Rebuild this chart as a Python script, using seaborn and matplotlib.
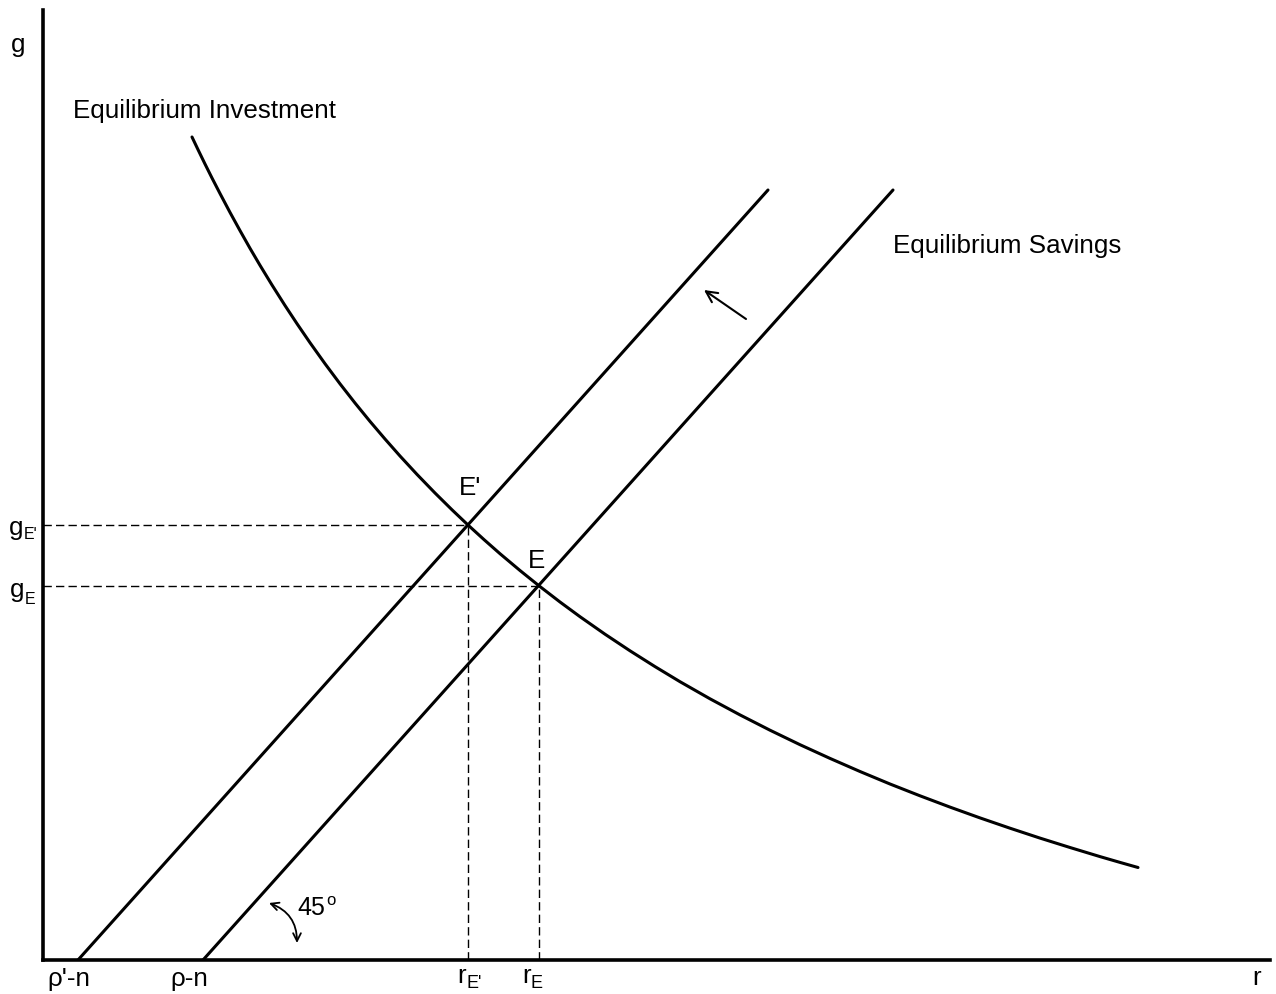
import matplotlib
matplotlib.use("Agg")
import matplotlib.pyplot as plt
import seaborn as sns
import pandas as pd

# Equilibrium investment schedule: growth rate g against interest rate r
invest_r = [1.49, 1.55, 1.62, 1.69, 1.77, 1.87, 1.97, 2.07, 2.17, 2.29,
            2.42, 2.54, 2.67, 2.82, 2.97, 3.12, 3.27, 3.42, 3.57, 3.74,
            3.92, 4.09, 4.25, 4.41, 4.57, 4.77, 4.96, 5.17, 5.37, 5.62,
            5.87, 6.12, 6.37, 6.67, 6.97, 7.27, 7.57, 7.87, 8.17, 8.47,
            8.77, 9.07, 9.37, 9.67, 9.97, 10.27, 10.57, 10.77, 10.95]
invest_g = [8.230, 8.104, 7.960, 7.820, 7.665, 7.476, 7.294, 7.117, 6.947,
            6.750, 6.545, 6.363, 6.173, 5.963, 5.762, 5.570, 5.386, 5.210,
            5.040, 4.856, 4.670, 4.502, 4.350, 4.204, 4.063, 3.895, 3.742,
            3.580, 3.433, 3.258, 3.092, 2.934, 2.783, 2.612, 2.451, 2.298,
            2.153, 2.016, 1.885, 1.760, 1.642, 1.529, 1.421, 1.318, 1.219,
            1.125, 1.034, 0.976, 0.925]

# Equilibrium savings schedules (original and shifted after a fall in rho)
savings_r = [1.60, 8.50]
savings_g = [0.00, 7.70]
savings_new_r = [0.35, 7.25]
savings_new_g = [0.00, 7.70]

# Equilibria
E_point = (4.96, 3.74)
E_prime_point = (4.25, 4.35)

# Shift arrow and 45-degree marker
shift_arrow = [(7.03, 6.41), (6.61, 6.70)]
angle_arrow = [(2.26, 0.57), (2.54, 0.17)]

r_max, g_max = 12.27, 9.50

sns.set_theme(style="white")
plt.rcParams["font.family"] = ["Liberation Sans", "DejaVu Sans"]

fig = plt.figure(figsize=(12.76, 9.94), dpi=100)
ax = fig.add_axes([43 / 1276, 34 / 994, 1227 / 1276, 950 / 994])

curve_df = pd.DataFrame({"r": invest_r, "g": invest_g})
sns.lineplot(data=curve_df, x="r", y="g", sort=False, color="black",
             linewidth=2.2, ax=ax, solid_joinstyle="round")
for xs, ys in [(savings_r, savings_g), (savings_new_r, savings_new_g)]:
    sns.lineplot(x=xs, y=ys, sort=False, color="black", linewidth=2.2, ax=ax)

# Dashed guides from the equilibria to the axes
dash = (0, (6, 3))
for (er, eg) in [E_prime_point, E_point]:
    ax.plot([0, er], [eg, eg], color="black", lw=1.0, linestyle=dash)
    ax.plot([er, er], [0, eg], color="black", lw=1.0, linestyle=dash)

ax.set_xlim(0, r_max)
ax.set_ylim(0, g_max)
ax.set_xticks([])
ax.set_yticks([])
ax.set_xlabel("")
ax.set_ylabel("")
for side in ["top", "right"]:
    ax.spines[side].set_visible(False)
for side in ["left", "bottom"]:
    ax.spines[side].set_visible(True)
    ax.spines[side].set_color("black")
    ax.spines[side].set_linewidth(2.6)

big = 18.7
sub_x = 13
sub_y = 11.5
txt = dict(color="black", clip_on=False)

ax.text(-0.25, 9.08, "g", fontsize=big, ha="center", va="baseline", **txt)
ax.text(12.135, -0.25, "r", fontsize=big, ha="center", va="baseline", **txt)
ax.text(0.297, 8.42, "Equilibrium Investment", fontsize=big, ha="left",
        va="baseline", **txt)
ax.text(8.50, 7.07, "Equilibrium Savings", fontsize=big, ha="left",
        va="baseline", **txt)
ax.text(4.27, 4.65, "E'", fontsize=big, ha="center", va="baseline", **txt)
ax.text(4.94, 3.92, "E", fontsize=big, ha="center", va="baseline", **txt)

# Axis markers
ax.text(0.255, -0.26, "ρ'-n", fontsize=big, ha="center", va="baseline", **txt)
ax.text(1.465, -0.26, "ρ-n", fontsize=big, ha="center", va="baseline", **txt)
ax.text(4.14, -0.23, "r", fontsize=big, ha="left", va="baseline", **txt)
ax.text(4.23, -0.28, "E'", fontsize=sub_x, ha="left", va="baseline", **txt)
ax.text(4.79, -0.23, "r", fontsize=big, ha="left", va="baseline", **txt)
ax.text(4.88, -0.28, "E", fontsize=sub_x, ha="left", va="baseline", **txt)
ax.text(-0.34, 4.25, "g", fontsize=big, ha="left", va="baseline", **txt)
ax.text(-0.19, 4.21, "E'", fontsize=sub_y, ha="left", va="baseline", **txt)
ax.text(-0.33, 3.63, "g", fontsize=big, ha="left", va="baseline", **txt)
ax.text(-0.18, 3.56, "E", fontsize=sub_y, ha="left", va="baseline", **txt)

# 45-degree marker
ax.text(2.54, 0.45, "45", fontsize=18, ha="left", va="baseline", **txt)
ax.text(2.83, 0.55, "o", fontsize=12, ha="left", va="baseline", **txt)
ax.annotate("", xy=angle_arrow[1], xytext=angle_arrow[0],
            arrowprops=dict(arrowstyle="<->", color="black", lw=1.3,
                            mutation_scale=14,
                            connectionstyle="arc3,rad=-0.35",
                            shrinkA=0, shrinkB=0),
            annotation_clip=False)

# Shift of the savings schedule
ax.annotate("", xy=shift_arrow[1], xytext=shift_arrow[0],
            arrowprops=dict(arrowstyle="->", color="black", lw=1.5,
                            mutation_scale=20, shrinkA=0, shrinkB=0))

fig.savefig("out.png", dpi=100, facecolor="white")
